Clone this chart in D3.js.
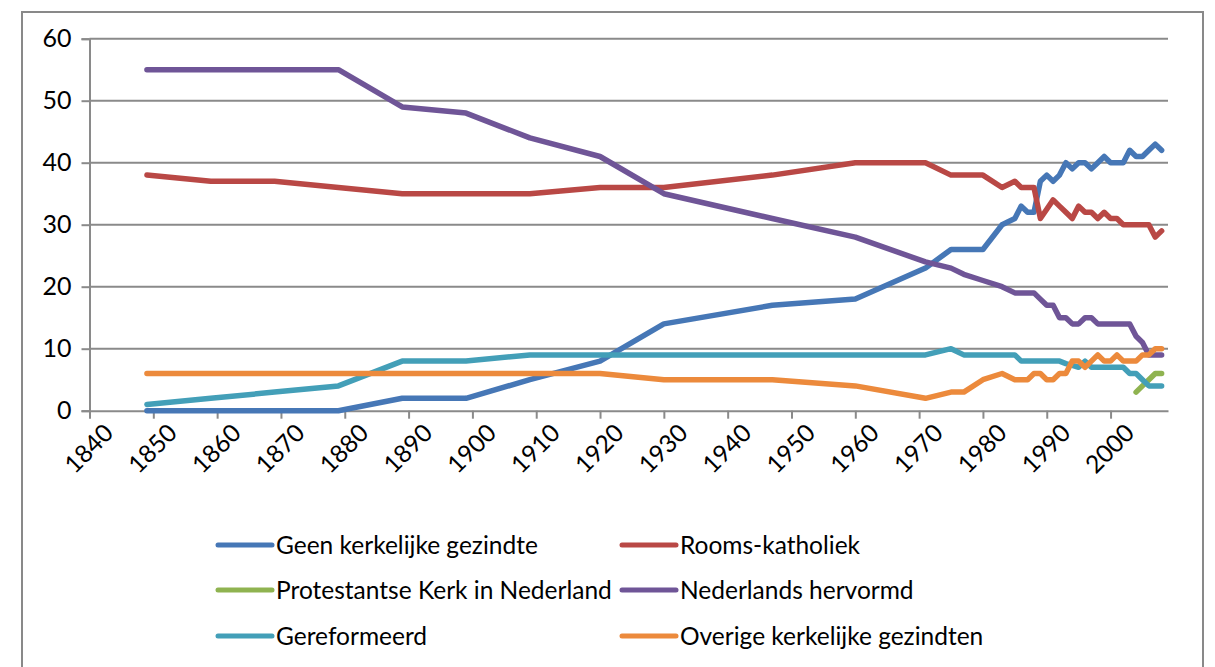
<!DOCTYPE html>
<html lang="nl">
<head>
    <meta charset="UTF-8">
    <title>Kerkelijke gezindte</title>
    <script src="https://d3js.org/d3.v7.min.js"></script>
</head>
<style>
    body { margin: 0; background: #fff; }
    text { font-family: Lato, "Open Sans", sans-serif; fill: #000; }
</style>
<body>
    <div id="chart-container"></div>

    <script>
        // data
        const years = [1849, 1859, 1869, 1879, 1889, 1899, 1909, 1920, 1930, 1947, 1960, 1971,
            1975, 1977, 1980, 1983, 1985, 1986, 1987, 1988, 1989, 1990, 1991, 1992, 1993, 1994,
            1995, 1996, 1997, 1998, 1999, 2000, 2001, 2002, 2003, 2004, 2005, 2006, 2007, 2008];

        const geenKerkelijk = [0, 0, 0, 0, 2, 2, 5, 8, 14, 17, 18, 23,
            26, 26, 26, 30, 31, 33, 32, 32, 37, 38, 37, 38, 40, 39,
            40, 40, 39, 40, 41, 40, 40, 40, 42, 41, 41, 42, 43, 42];

        const roomsKatholiek = [38, 37, 37, 36, 35, 35, 35, 36, 36, 38, 40, 40,
            38, 38, 38, 36, 37, 36, 36, 36, 31, 32.5, 34, 33, 32, 31,
            33, 32, 32, 31, 32, 31, 31, 30, 30, 30, 30, 30, 28, 29];

        const protestantseKerk = [null, null, null, null, null, null, null, null, null, null, null, null,
            null, null, null, null, null, null, null, null, null, null, null, null, null, null,
            null, null, null, null, null, null, null, null, null, 3, 4, 5, 6, 6];

        const nederlandsHervormd = [55, 55, 55, 55, 49, 48, 44, 41, 35, 31, 28, 24,
            23, 22, 21, 20, 19, 19, 19, 19, 18, 17, 17, 15, 15, 14,
            14, 15, 15, 14, 14, 14, 14, 14, 14, 12, 11, 9, 9, 9];

        const gereformeerd = [1, 2, 3, 4, 8, 8, 9, 9, 9, 9, 9, 9,
            10, 9, 9, 9, 9, 8, 8, 8, 8, 8, 8, 8, 7.6, 7.3,
            7, 8, 7, 7, 7, 7, 7, 7, 6, 6, 5, 4, 4, 4];

        const overigeKerkelijk = [6, 6, 6, 6, 6, 6, 6, 6, 5, 5, 4, 2,
            3, 3, 5, 6, 5, 5, 5, 6, 6, 5, 5, 6, 6, 8,
            8, 7, 8, 9, 8, 8, 9, 8, 8, 8, 9, 9, 10, 10];

        const seriesNames = ["Geen kerkelijke gezindte", "Rooms-katholiek", "Protestantse Kerk in Nederland",
            "Nederlands hervormd", "Gereformeerd", "Overige kerkelijke gezindten"];
        const seriesValues = [geenKerkelijk, roomsKatholiek, protestantseKerk,
            nederlandsHervormd, gereformeerd, overigeKerkelijk];
        const colors = ["#4677b6", "#b94845", "#8fb350", "#6f5597", "#439fb8", "#ec8a3c"];

        const yTicks = [0, 10, 20, 30, 40, 50, 60];
        const xTicks = d3.range(1840, 2001, 10);

        const containerWidth = 1215;
        const containerHeight = 667;
        const plot = { left: 89.5, right: 1168, top: 38.7, bottom: 410.7 };

        const svg = d3.select("#chart-container")
            .append("svg")
            .attr("width", containerWidth)
            .attr("height", containerHeight);

        // outer frame of the chart object
        svg.append("rect")
            .attr("x", 22).attr("y", 12)
            .attr("width", 1181).attr("height", 700)
            .attr("fill", "none")
            .attr("stroke", "#898989")
            .attr("stroke-width", 2);

        const x = d3.scaleLinear().domain([1840, 2009]).range([plot.left, plot.right]);
        const y = d3.scaleLinear().domain([0, 60]).range([plot.bottom, plot.top]);

        // gridlines
        svg.append("g")
            .selectAll("line")
            .data(yTicks.filter(d => d > 0))
            .join("line")
            .attr("x1", plot.left).attr("x2", plot.right)
            .attr("y1", d => y(d)).attr("y2", d => y(d))
            .attr("stroke", "#8a8a8a")
            .attr("stroke-width", 2);

        // y axis
        const yAxis = svg.append("g")
            .attr("transform", `translate(${plot.left},0)`)
            .call(d3.axisLeft(y).tickValues(yTicks).tickSize(8).tickPadding(10));
        yAxis.select(".domain").attr("stroke", "#8a8a8a").attr("stroke-width", 2);
        yAxis.selectAll(".tick line").attr("stroke", "#8a8a8a").attr("stroke-width", 2);
        yAxis.selectAll(".tick text").style("font-size", "25px").attr("font-family", null);

        // x axis
        const xAxis = svg.append("g")
            .attr("transform", `translate(0,${plot.bottom})`)
            .call(d3.axisBottom(x).tickValues(xTicks).tickFormat(d3.format("d")).tickSize(8).tickSizeOuter(0));
        xAxis.select(".domain").attr("stroke", "#8a8a8a").attr("stroke-width", 2);
        xAxis.selectAll(".tick line").attr("stroke", "#8a8a8a").attr("stroke-width", 2);
        xAxis.selectAll(".tick text")
            .style("font-size", "24.5px")
            .attr("font-family", null)
            .attr("text-anchor", "end")
            .attr("dy", "0.35em")
            .attr("transform", "translate(11,10) rotate(-45)");

        // lines
        const line = d3.line()
            .defined(d => d.v !== null)
            .x(d => x(d.year))
            .y(d => y(d.v));

        seriesValues.forEach((vals, i) => {
            svg.append("path")
                .datum(years.map((yr, j) => ({ year: yr, v: vals[j] })))
                .attr("fill", "none")
                .attr("stroke", colors[i])
                .attr("stroke-width", 5.5)
                .attr("stroke-linejoin", "round")
                .attr("stroke-linecap", "round")
                .attr("d", line);
        });

        // legend
        const legendCols = [218, 622];
        const legendRows = [545, 590, 636];
        const legend = svg.append("g")
            .selectAll("g")
            .data(seriesNames)
            .join("g")
            .attr("transform", (d, i) => `translate(${legendCols[i % 2]},${legendRows[Math.floor(i / 2)]})`);
        legend.append("line")
            .attr("x1", 0).attr("x2", 54)
            .attr("stroke", (d, i) => colors[i])
            .attr("stroke-width", 5)
            .attr("stroke-linecap", "round");
        legend.append("text")
            .attr("x", 58)
            .attr("dy", "0.35em")
            .style("font-size", "24.5px")
            .text(d => d);
    </script>
</body>
</html>
